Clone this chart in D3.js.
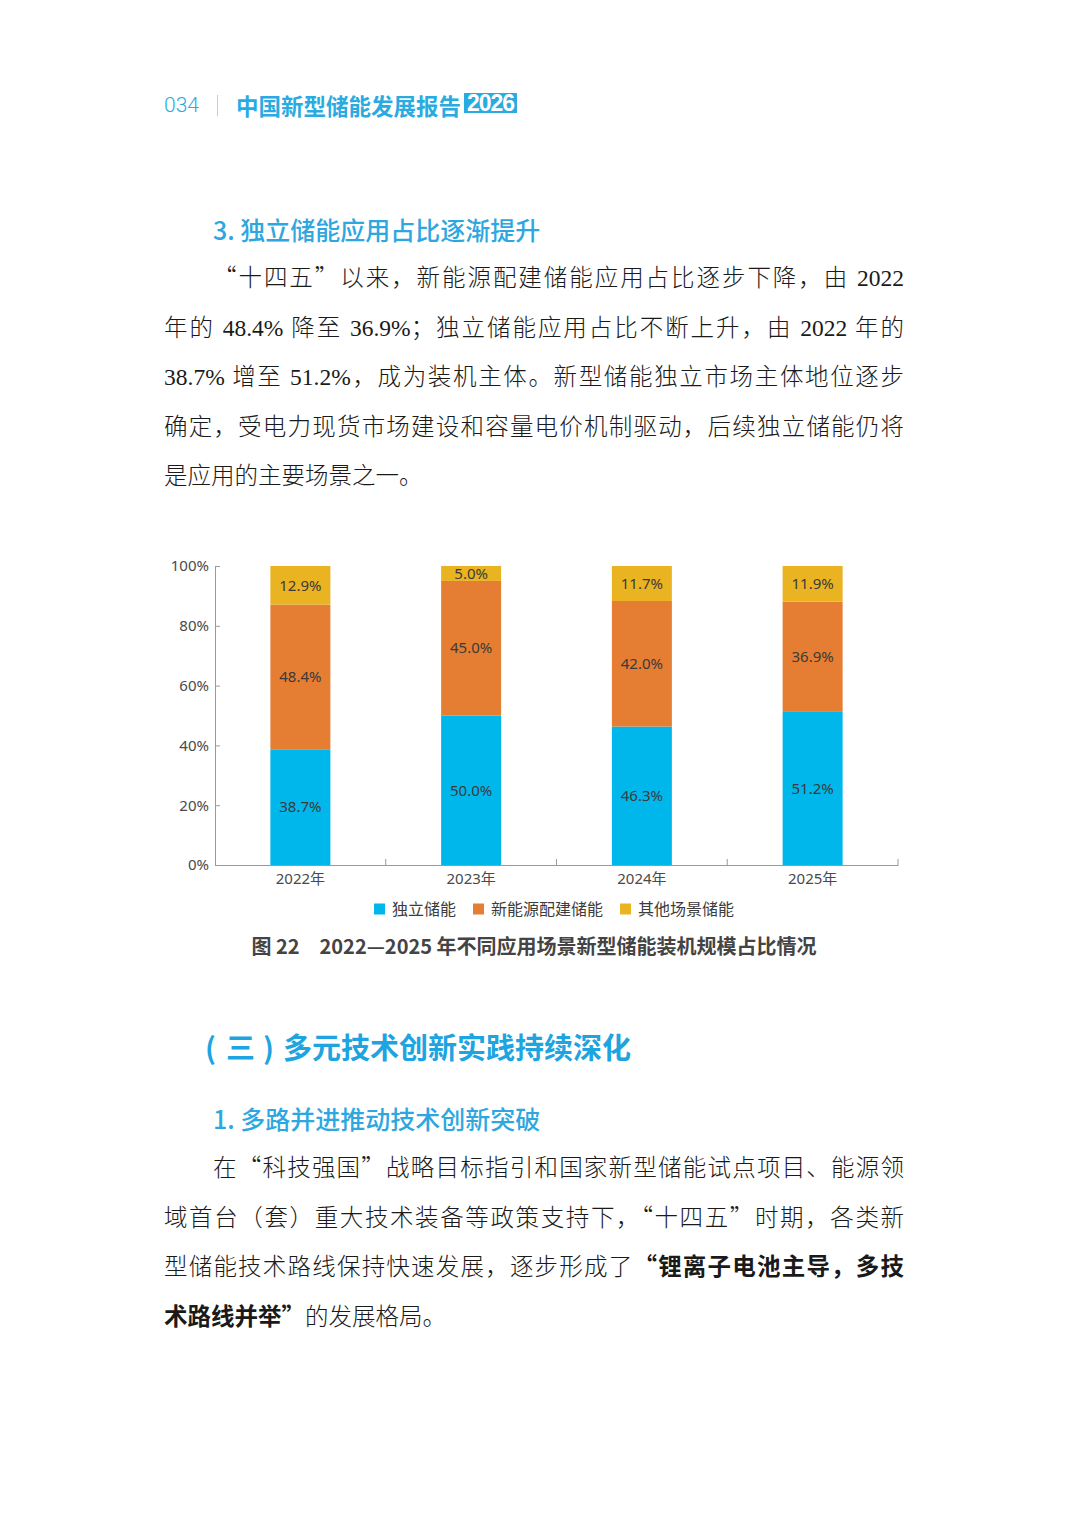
<!DOCTYPE html>
<html>
<head>
<meta charset="utf-8">
<script src="https://cdn.jsdelivr.net/npm/d3@7"></script>
<style>
html, body { margin: 0; padding: 0; background: #fff; }
body { width: 1080px; height: 1518px; position: relative; overflow: hidden; font-family: "Noto Sans CJK SC", sans-serif; }
.abs { position: absolute; white-space: nowrap; }
.line { position: absolute; left: 164px; width: 740px; height: 32px; line-height: 32px;
  font-family: "Liberation Serif", "Noto Sans CJK SC", serif; font-size: 23.5px; font-weight: 300; color: #1a1a1a;
  text-align: justify; text-align-last: justify; text-justify: inter-character; white-space: nowrap; }
.line.last { text-align-last: left; }
.line b { font-weight: 700; }
.line .q { font-family: "Noto Sans CJK SC", sans-serif; line-height: 1px; }
.h3 { color: #2ea7e0; font-size: 25px; font-weight: 500; }
#chart { position: absolute; left: 0; top: 0; }
</style>
</head>
<body>
<div class="abs" style="left:164px;top:91px;font-family:Roboto,sans-serif;font-weight:300;font-size:21px;color:#29abe2;line-height:28px;">034</div>
<div class="abs" style="left:217px;top:95px;width:1px;height:21px;background:#9fd8f1;"></div>
<div class="abs" style="left:236px;top:90px;font-size:22.5px;font-weight:700;color:#29abe2;line-height:30px;">中国新型储能发展报告</div>
<div class="abs" style="left:464px;top:93px;width:53px;height:20px;background:#29abe2;"></div>
<div class="abs" style="left:464px;top:91px;width:53px;text-align:center;font-family:'Liberation Sans',sans-serif;font-size:23px;font-weight:700;color:#fff;line-height:25px;letter-spacing:-1px;">2026</div>

<div class="abs h3" style="left:213px;top:213px;line-height:32px;">3. 独立储能应用占比逐渐提升</div>
<div class="abs" style="left:205px;top:1027px;font-size:29px;font-weight:700;color:#1ea4e0;line-height:38px;">(<span style="margin:0 8px 0 10px">三</span>)<span style="margin-left:9px">多元技术创新实践持续深化</span></div>
<div class="abs h3" style="left:213px;top:1102px;line-height:32px;">1. 多路并进推动技术创新突破</div>

<div id="para"></div>
<svg id="chart" width="1080" height="1000"></svg>
<div class="abs" id="caption" style="left:0;width:1068px;top:931px;text-align:center;font-size:20px;font-weight:700;color:#444;line-height:30px;">图 22　2022—2025 年不同应用场景新型储能装机规模占比情况</div>

<script>
// chart data
const years = ["2022年", "2023年", "2024年", "2025年"];
const seriesNames = ["独立储能", "新能源配建储能", "其他场景储能"];
const independent = [38.7, 50.0, 46.3, 51.2];
const renewable = [48.4, 45.0, 42.0, 36.9];
const other = [12.9, 5.0, 11.7, 11.9];
const yTicks = [0, 20, 40, 60, 80, 100];

// body text, one entry per printed line
const para1 = [
  "“十四五”以来，新能源配建储能应用占比逐步下降，由 2022",
  "年的 48.4% 降至 36.9%；独立储能应用占比不断上升，由 2022 年的",
  "38.7% 增至 51.2%，成为装机主体。新型储能独立市场主体地位逐步",
  "确定，受电力现货市场建设和容量电价机制驱动，后续独立储能仍将",
  "是应用的主要场景之一。"
];
const para2 = [
  "在“科技强国”战略目标指引和国家新型储能试点项目、能源领",
  "域首台（套）重大技术装备等政策支持下，“十四五”时期，各类新",
  "型储能技术路线保持快速发展，逐步形成了<b>“锂离子电池主导，多技</b>",
  "<b>术路线并举”</b>的发展格局。"
];

function drawParagraph(lines, top) {
  d3.select("#para").selectAll(null)
    .data(lines)
    .enter().append("div")
    .attr("class", (d, i) => i === lines.length - 1 ? "line last" : "line")
    .style("top", (d, i) => (top + i * 49.5) + "px")
    .style("padding-left", (d, i) => i === 0 ? "49px" : "0px")
    .style("width", (d, i) => i === 0 ? "691px" : "740px")
    .html(d => d.replace(/[“”]/g, m => `<span class="q">${m}</span>`));
}
drawParagraph(para1, 262);
drawParagraph(para2, 1152);

const svg = d3.select("#chart");
const x = d3.scaleBand().domain(years).range([215, 898]);
const y = d3.scaleLinear().domain([0, 100]).range([865, 566]);
const barW = 60;
const color = d3.scaleOrdinal().domain(seriesNames).range(["#00b7ec", "#e57e33", "#eab321"]);

const rows = years.map((yr, i) => ({
  year: yr,
  [seriesNames[0]]: independent[i],
  [seriesNames[1]]: renewable[i],
  [seriesNames[2]]: other[i]
}));
const stacked = d3.stack().keys(seriesNames)(rows);

const layers = svg.append("g")
  .selectAll("g")
  .data(stacked)
  .enter().append("g")
  .attr("fill", d => color(d.key));

layers.selectAll("rect")
  .data(d => d)
  .enter().append("rect")
  .attr("x", d => x(d.data.year) + (x.bandwidth() - barW) / 2)
  .attr("y", d => y(d[1]))
  .attr("width", barW)
  .attr("height", d => y(d[0]) - y(d[1]));

layers.each(function (layer) {
  d3.select(this).selectAll("text")
    .data(layer)
    .enter().append("text")
    .attr("x", d => x(d.data.year) + x.bandwidth() / 2)
    .attr("y", d => (y(d[0]) + y(d[1])) / 2)
    .attr("dy", "0.35em")
    .attr("text-anchor", "middle")
    .attr("fill", "#3a3a3a")
    .style("font-family", "'Noto Sans', sans-serif")
    .style("font-size", "15px")
    .text(d => d.data[layer.key].toFixed(1) + "%");
});

// axes
const yAxis = svg.append("g")
  .attr("transform", "translate(215,0)")
  .call(d3.axisLeft(y).tickValues(yTicks).tickFormat(d => d + "%").tickSize(-5).tickSizeOuter(0).tickPadding(6));

const xAxis = svg.append("g")
  .attr("transform", "translate(0,865)")
  .call(d3.axisBottom(x).tickSize(0).tickPadding(8));

xAxis.selectAll(".bound")
  .data(years)
  .enter().append("line")
  .attr("class", "bound")
  .attr("x1", d => x(d) + x.bandwidth())
  .attr("x2", d => x(d) + x.bandwidth())
  .attr("y1", 0)
  .attr("y2", -6);

[yAxis, xAxis].forEach(g => {
  g.selectAll("path, line").attr("stroke", "#9a9a9a");
  g.selectAll("text")
    .attr("fill", "#4a4a4a")
    .style("font-family", "'Noto Sans', 'Noto Sans CJK SC', sans-serif")
    .style("font-size", "15px");
});

// legend
const legend = svg.append("g").attr("transform", "translate(374,909)");
let lx = 0;
seriesNames.forEach(name => {
  const item = legend.append("g").attr("transform", `translate(${lx},0)`);
  item.append("rect")
    .attr("x", 0).attr("y", -5.5)
    .attr("width", 11).attr("height", 11)
    .attr("fill", color(name));
  const t = item.append("text")
    .attr("x", 18)
    .attr("dy", "0.35em")
    .attr("fill", "#3c3c3c")
    .style("font-family", "'Noto Sans CJK SC', sans-serif")
    .style("font-size", "16px")
    .text(name);
  lx += 18 + t.node().getComputedTextLength() + 17;
});
</script>
</body>
</html>
